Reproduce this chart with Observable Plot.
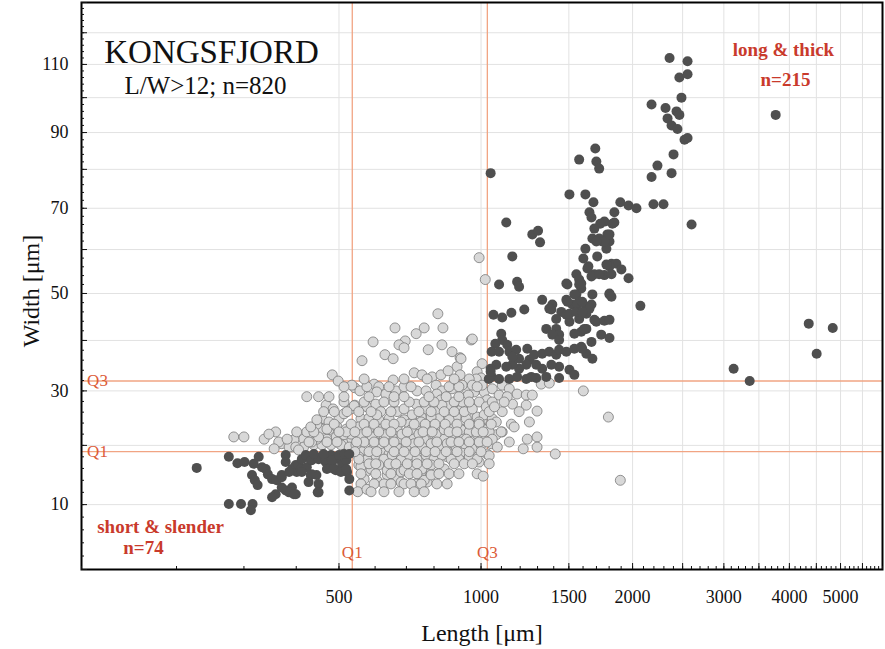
<!DOCTYPE html>
<html><head><meta charset="utf-8">
<script src="https://cdn.jsdelivr.net/npm/d3@7"></script>
<script src="https://cdn.jsdelivr.net/npm/@observablehq/plot@0.6"></script>
<style>html,body{margin:0;padding:0;background:#fff;} svg text{font-family:"Liberation Serif","Times New Roman",serif;}</style>
</head><body><div id="chart"></div>
<script>
// [length µm, width µm]
const shortSlender = [[227,16.1],[275,18],[289,16.9],[275,10.1],[295,10.1],[315,10.1],[312,9.1],[317,16.8],[326,18],[314,14.9],[319,14],[324,13.2],[339,15.9],[343,15],[351,14.2],[360,14],[370,14.5],[358,11.7],[351,11.2],[378,12.3],[391,12.8],[399,11.7],[385,12],[370,12.8],[378,18.3],[378,17.1],[391,15.9],[399,16.6],[401,15.4],[405,16.6],[412,17.6],[421,18.3],[432,17.4],[434,15],[445,14.9],[450,13.4],[448,12],[457,18],[467,17.1],[470,15.9],[480,18.3],[482,16.8],[492,15.7],[500,17.6],[508,16.6],[519,18],[521,15.4],[527,14.2],[527,12.3],[410,15.9],[423,16.2],[434,17.4],[450,17.6],[467,17.6],[482,17.4],[519,17.4],[412,15.4],[432,14.9],[487,15.9],[505,15.4],[519,15.9],[370,14.9],[395,11.7],[450,12],[500,18.3],[513,18.5],[527,18.5],[439,18.5],[462,18.5],[427,13.7],[385,15.4],[332,16.2],[301,17.1]];

const longThick = [[2359,112],[2555,111],[2464,106],[2555,107],[2487,100],[2177,98],[2317,97],[2433,96],[2464,95],[2338,94],[2380,92],[2443,91],[2521,88],[2555,88.5],[2401,84],[2235,81],[2380,79],[2177,78],[2196,71],[2296,71],[2601,66],[3767,95],[1893,71.5],[1964,70.7],[2035,70],[1843,69],[1762,66.7],[1827,66.2],[1786,63.6],[1745,61.9],[1803,61.9],[1778,60.2],[1819,56.7],[1860,56.7],[1902,55.4],
[1046,79],[1691,85.6],[1572,82.6],[1699,82.1],[1721,80.2],[1504,73.5],[1617,73.5],[1677,71.5],[1647,69],[1662,67.7],[1843,66.5],[1729,66.2],[1684,65],[1669,62.6],[1721,62.6],[1762,61.9],[1803,63.6],[1699,61.9],[1125,66.5],[1269,63.6],[1303,64.5],[1315,61.7],[1157,58.4],[1617,60.2],[1602,57.9],[1706,58.4],[1639,56.1],[1684,54.3],[1762,54.1],[1803,56.1],[1964,53.4],[1552,54.3],[1490,52],[1572,53.1],[1587,51.1],[1552,49.8],[1483,48.6],[1524,47.6],[1572,48.2],[1624,47.1],[1662,47.6],[1669,49.8],[1803,49.8],[2071,47.3],[1328,48.6],[1391,47.6],[1385,46.5],[1449,46],[1483,45.4],[1416,44.5],[1504,43.9],[1572,44.5],[1624,45.6],[1699,43.9],[1762,44.1],[1803,44.3],[1088,52],[1183,52.6],[1194,51.5],[1060,45.4],[1104,44.8],[1152,45.8],[1223,46.5],[1353,42.4],
[1372,46.7],[1483,52.2],[1490,48.2],[1538,49.8],[1559,47.6],[1504,45.6],[1552,46],[1632,55.6],[1662,53.8],[1572,52],[1778,56.5],[1819,54.3],[1803,50],[1819,49.3],[1684,44.3],[1624,42.4],[1587,41.8],[1662,39.7],[1737,41.2],[1803,40.5],[1416,42.4],[1435,41.2],[1391,41.2],[1435,40.1],[1538,41.4],[1099,41.4],[1104,40.1],[1130,39.1],[1069,39.3],[1051,37.7],[1088,37.7],[1141,37.7],[1178,38.1],[1240,38.3],[1252,36.1],[1280,37.1],[1328,37.3],[1372,37.7],[1416,37.1],[1435,38.1],[1483,37.7],[1538,38.3],[1587,38.7],[1624,37.3],[1669,36.3],[1504,34.1],[1538,33.1],[1435,34.7],[1385,35.1],[1328,34.3],[1292,35.1],[1234,35.1],[1194,34.3],[1157,35.1],[1125,34.7],[1074,35.1],[1046,34.3],[1051,32.7],[1088,32.3],[1141,32.3],[1183,32.7],[1234,32.3],[1292,32.5],[1353,32.7],[1435,32.5],[1263,32.7],[1037,32.3],[1046,33.7],[1194,36.3],[1157,36.7],[1721,54.3],[1587,52.2],[1594,48.2],[1647,46.7],[1594,46],[1609,42.4],[1594,38.3],[4353,43.5],[4833,42.6],[4506,37.3],[3132,34.3],[3361,31.9]];

const middle = [[815,45.6],[662,42.6],[763,42.6],[835,42.6],[734,41.4],[594,39.7],[696,39.9],[675,39.1],[692,38.5],[831,39.1],[955,40.1],[778,38.1],[872,37.7],[630,37.1],[656,36.3],[906,36.5],[562,35.9],[893,34.7],[1005,35.3],[727,33.5],[755,33.1],[793,32.7],[827,33.1],[856,33.9],[906,33.1],[982,33.7],[1000,32.5],[483,33.1],[498,31.9],[656,32.1],[597,31.3],[611,30.8],[542,30.6],[556,30.0],[605,29.8],[633,29.4],[665,30.0],[737,30.0],[770,30.0],[808,31.1],[831,30.0],[872,30.4],[933,30.4],[960,31.7],[1015,29.8],[969,29.8],[423,28.9],[534,31.1],[991,58.1],[1020,53.1],[960,40.3],[910,36.3],[978,32.3],[946,32.3],[915,31.1],[960,31.1],[1005,31.1],[1054,30.4],[1104,31.1],[1141,30.4],[1183,29.4],[1234,29.2],[1269,29.2],[1322,31.3],[1372,31.5],[1088,29.2],[1602,30.0],[811,29.4],[942,29.2],[1029,28.3],
[468,27.3],[485,26.6],[458,24.8],[475,24.2],[500,24.8],[513,25.7],[532,26.6],[542,27.3],[576,27.0],[602,27.5],[617,26.1],[559,24.8],[582,24.9],[611,24.6],[643,24.8],[458,22.9],[475,22.8],[495,23.3],[519,22.9],[470,21.1],[493,21.5],[513,21.1],[534,21.1],[559,22.0],[579,21.1],[602,21.9],[627,21.1],[653,21.9],[416,21.1],[423,22.4],[370,20.3],[391,19.7],[416,19.7],[439,20.1],[458,20.1],[480,20.1],[505,20.1],[527,19.7],[562,18.9],[591,19.2],[617,18.9],[643,18.5],[568,17.6],[553,16.6],[573,15.4],[568,14.2],[559,13.4],[605,14.0],[637,14.9],[665,15.9],[621,16.8],[649,17.1],[550,12.1],
[395,21.0],[446,21.1],[513,21.9],[532,22.0],[553,23.3],[559,21.9],[582,22.9],[591,21.5],[617,22.9],[633,21.9],[662,22.8],[545,20.1],[568,20.6],[617,20.3],[643,19.7],[553,18.0],[576,17.5],[602,18.3],[627,17.6],[653,18.3],[559,16.3],[588,15.9],[611,16.6],[637,15.7],[627,13.4],[665,14.2],[576,12.5],[540,27.2],[605,25.5],
[669,26.1],[692,26.6],[734,27.5],[770,26.6],[808,26.1],[860,27.3],[893,27.9],[910,26.4],[955,27.0],[1005,24.6],[969,25.1],[933,24.8],[889,25.1],[852,25.5],[819,24.8],[789,25.1],[752,25.1],[720,25.5],[692,24.6],[669,23.3],[710,22.9],[744,23.3],[781,23.3],[819,22.9],[868,23.3],[915,22.9],[969,23.3],[1015,22.9],[685,21.1],[727,21.5],[763,21.1],[800,21.9],[840,21.1],[881,21.5],[924,21.9],[969,21.1],[1005,21.0],[675,19.4],[710,19.2],[752,19.4],[789,19.2],[827,19.4],[872,19.2],[924,18.9],[978,18.9],[1029,18.5],[682,17.5],[720,17.1],[763,17.6],[808,17.1],[852,18.0],[901,17.6],[946,17.6],[991,17.1],[682,15.4],[716,15.7],[752,15.4],[789,15.4],[840,15.9],[982,15.1],[1010,14.7],[682,13.7],[734,13.4],[774,13.7],[827,28.3],[991,27.9],
[831,27.3],[924,26.1],[982,25.1],[1015,25.5],[860,24.6],[752,24.2],[710,23.8],[682,24.2],[685,22.0],[716,22.8],[744,22.0],[774,22.8],[808,22.0],[840,22.8],[872,22.0],[910,22.8],[946,22.4],[982,22.0],[1025,22.8],[1074,21.9],[1104,22.4],[699,19.7],[727,20.3],[755,19.7],[789,20.3],[819,19.7],[852,20.3],[889,19.7],[924,20.3],[960,19.4],[1000,20.1],[1049,20.3],[710,18.3],[737,17.6],[770,18.3],[800,17.6],[831,18.3],[868,17.6],[946,18.0],[982,17.6],[1039,18.2],[692,15.7],[727,16.3],[755,15.9],[789,16.6],[692,13.4],[763,14.0],[789,14.9],
[915,27.9],[960,26.6],[1025,27.0],[1054,27.9],[1158,27.5],[1234,27.3],[1130,28.9],[991,24.2],[1054,24.8],[1104,26.1],[1074,24.2],[1152,23.8],[1297,26.2],[978,22.4],[1039,22.4],[1099,22.4],[933,21.1],[991,20.6],[1054,21.1],[1240,21.1],[1297,21.5],[1297,19.7],[1794,25.1],[1893,14.0],[1410,18.5],[1217,19.4],
[283,21.5],[300,21.5],[336,21.1],[358,22.4],[385,19.7],[399,19.7],[434,20.6],[450,21.5],[470,22.9],[519,22.4],[553,17.6],[364,20.6],[345,22.0],
[513,27.9],[568,27.9],[627,27.9],[659,27.9],[710,27.9],[763,27.9],[800,27.9],[881,27.9],[946,27.9],
[462,26.1],[488,26.1],[521,26.1],[553,26.1],[588,26.1],[649,26.1],[744,26.1],[789,26.1],[840,26.1],[881,26.1],[1039,26.1],
[446,23.8],[488,23.8],[532,23.8],[568,23.8],[597,23.8],[633,23.8],[659,23.8],[727,23.8],[767,23.8],[804,23.8],[844,23.8],[893,23.8],[946,23.8],[991,23.8],[1049,23.8],
[439,22.4],[500,22.4],[542,22.4],[576,22.4],[611,22.4],[649,22.4],[703,22.4],[759,22.4],[793,22.4],[860,22.4],[893,22.4],[1010,22.4],
[428,20.6],[470,20.6],[495,20.6],[547,20.6],[597,20.6],[627,20.6],[659,20.6],[699,20.6],[744,20.6],[811,20.6],[868,20.6],[901,20.6],[946,20.6],[1029,20.6],
[542,18.9],[582,18.9],[605,18.9],[659,18.9],[692,18.9],[730,18.9],[770,18.9],[804,18.9],[848,18.9],[893,18.9],[946,18.9],[1000,18.9],
[582,16.8],[602,16.8],[643,16.8],[665,16.8],[703,16.8],[737,16.8],[774,16.8],[819,16.8],[881,16.8],[924,16.8],[960,16.8],[1039,16.8],
[559,15.1],[602,15.1],[649,15.1],[710,15.1],[737,15.1],[819,15.1],[860,15.1],[901,15.1],
[597,13.4],[649,13.4],[716,13.4],[752,13.4],[811,13.4],[852,13.4],
[588,12.1],[627,12.1],[675,12.1],[727,12.1],[763,12.1],
[450,28.9],[475,28.9],[513,28.9],[582,28.9],[659,28.9],[692,28.9],[781,28.9],[848,28.9],[901,28.9],
[513,30.8],[576,30.8],[643,30.8],[692,30.8],[716,30.8],[860,30.8],[901,30.8],[982,30.8],
[568,32.3],[692,32.3],[774,32.3],[881,32.3],
[401,22.4],[381,21.1],[432,23.3],[446,24.6],[405,19.2],[355,19.4],
[1065,27.0],[1114,27.9],[1194,26.1],[1167,23.3],[1252,24.2],[1079,19.7],[1141,20.6]];

const quartileLength = [{q: "Q1", v: 535}, {q: "Q3", v: 1030}];
const quartileWidth = [{q: "Q1", v: 18.9}, {q: "Q3", v: 31.9}];
const xTickLabels = [500, 1000, 1500, 2000, 3000, 4000, 5000];
const yTickLabels = [10, 30, 50, 70, 90, 110];
const xGridValues = [500, 1000, 1500, 2000, 2500, 3000, 3500, 4000, 4500, 5000, 5500];
const yGridValues = [10, 20, 30, 40, 50, 60, 70, 80, 90, 100, 110, 120];
const xMinorTicks = d3.range(100, 6001, 100);
const yMinorTicks = d3.range(0, 131, 2);
const yMajorTicks = d3.range(0, 131, 10);

const serif = "Liberation Serif";
const red = "#c93a2c";
const qLine = "#f1a483";
const qText = "#dc5b38";

const chart = Plot.plot({
  width: 885, height: 649,
  marginLeft: 81, marginRight: 3, marginTop: 2, marginBottom: 80,
  style: {background: "#fff", color: "#111"},
  x: {type: "symlog", constant: 100, domain: [100, 6000]},
  y: {type: "symlog", constant: 100, domain: [0, 130]},
  marks: [
    Plot.gridX(xGridValues, {stroke: "#e2e2e2", strokeOpacity: 1}),
    Plot.gridY(yGridValues, {stroke: "#e2e2e2", strokeOpacity: 1}),
    Plot.ruleX(quartileLength, {x: "v", stroke: qLine, strokeWidth: 1.3}),
    Plot.ruleY(quartileWidth, {y: "v", stroke: qLine, strokeWidth: 1.3}),
    Plot.dot(middle, {x: d => d[0], y: d => d[1], r: 5, fill: "#d8d8d8", stroke: "#7a7a7a", strokeWidth: 0.8}),
    Plot.dot(shortSlender, {x: d => d[0], y: d => d[1], r: 5, fill: "#4f4f4f"}),
    Plot.dot(longThick, {x: d => d[0], y: d => d[1], r: 5, fill: "#4f4f4f"}),
    Plot.text(quartileWidth, {y: "v", text: "q", frameAnchor: "left", textAnchor: "middle", dx: 16, fill: qText, fontSize: 17, fontFamily: serif}),
    Plot.text(quartileLength, {x: "v", text: "q", frameAnchor: "bottom", textAnchor: "middle", dy: -12, fill: qText, fontSize: 17, fontFamily: serif}),
    Plot.frame({stroke: "#000", strokeWidth: 2}),
    Plot.axisX(xMinorTicks, {tickSize: -3, tickFormat: () => "", label: null}),
    Plot.axisX(xGridValues, {tickSize: -6, tickFormat: () => "", label: null}),
    Plot.axisY(yMinorTicks, {tickSize: -3, tickFormat: () => "", label: null}),
    Plot.axisY(yMajorTicks, {tickSize: -6, tickFormat: () => "", label: null}),
    Plot.text(xTickLabels, {x: d => d, text: d => String(d), frameAnchor: "bottom", textAnchor: "middle", lineAnchor: "middle", dy: 28, fontSize: 18, fontFamily: serif, fill: "#111"}),
    Plot.text(yTickLabels, {y: d => d, text: d => String(d), frameAnchor: "left", textAnchor: "end", lineAnchor: "middle", dx: -13, fontSize: 18, fontFamily: serif, fill: "#111"}),
    Plot.text(["Length [μm]"], {frameAnchor: "bottom", textAnchor: "middle", dy: 71, lineAnchor: "bottom", fontSize: 24, fontFamily: serif}),
    Plot.text(["Width [μm]"], {frameAnchor: "left", textAnchor: "middle", dx: -50, dy: 5, rotate: -90, lineAnchor: "middle", fontSize: 24, fontFamily: serif}),
    Plot.text(["KONGSFJORD"], {frameAnchor: "top-left", textAnchor: "middle", dx: 130, dy: 60, lineAnchor: "bottom", fontSize: 33, fontFamily: serif}),
    Plot.text(["L/W>12; n=820"], {frameAnchor: "top-left", textAnchor: "middle", dx: 124, dy: 91, lineAnchor: "bottom", fontSize: 25, fontFamily: serif}),
    Plot.text(["long & thick"], {frameAnchor: "top-right", textAnchor: "middle", dx: -99, dy: 53, lineAnchor: "bottom", fontSize: 19, fontWeight: "bold", fill: red, fontFamily: serif}),
    Plot.text(["n=215"], {frameAnchor: "top-right", textAnchor: "middle", dx: -97, dy: 83, lineAnchor: "bottom", fontSize: 19, fontWeight: "bold", fill: red, fontFamily: serif}),
    Plot.text(["short & slender"], {frameAnchor: "bottom-left", textAnchor: "middle", dx: 79, dy: -37, lineAnchor: "bottom", fontSize: 19, fontWeight: "bold", fill: red, fontFamily: serif}),
    Plot.text(["n=74"], {frameAnchor: "bottom-left", textAnchor: "middle", dx: 62, dy: -16, lineAnchor: "bottom", fontSize: 19, fontWeight: "bold", fill: red, fontFamily: serif})
  ]
});
document.getElementById("chart").appendChild(chart);
</script>
</body></html>
